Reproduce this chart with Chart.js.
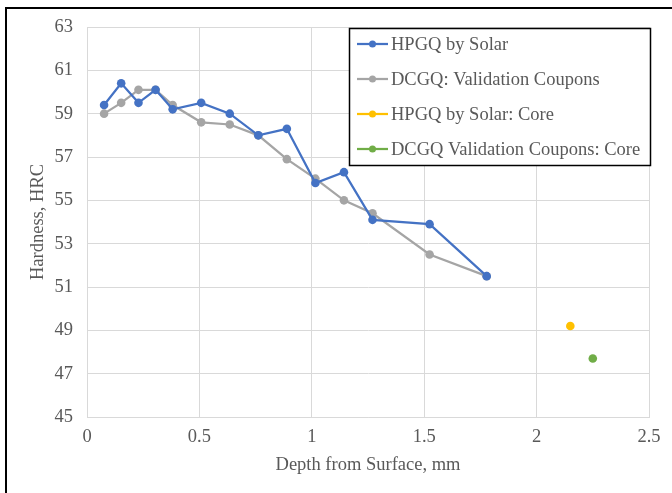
<!DOCTYPE html>
<html>
<head>
<meta charset="utf-8">
<script src="https://cdn.jsdelivr.net/npm/chart.js@4/dist/chart.umd.min.js"></script>
<style>
  html, body { margin: 0; padding: 0; background: #ffffff; }
  canvas { display: block; }
</style>
</head>
<body>
<canvas id="hardness" width="672" height="493"></canvas>
<script>
// Depth of each hardness traverse reading (mm)
const depthMm = [0.076, 0.152, 0.229, 0.305, 0.381, 0.508, 0.635, 0.762, 0.889, 1.016, 1.143, 1.27, 1.524, 1.778];
// Case hardness profiles (HRC)
const hpgqSolar = [59.4, 60.4, 59.5, 60.1, 59.2, 59.5, 59.0, 58.0, 58.3, 55.8, 56.3, 54.1, 53.9, 51.5];
const dcgqCoupons = [59.0, 59.5, 60.1, 60.1, 59.4, 58.6, 58.5, 58.0, 56.9, 56.0, 55.0, 54.4, 52.5, 51.5];
// Core readings: [depth mm, HRC]
const hpgqCore = [2.15, 49.2];
const dcgqCore = [2.25, 47.7];
// Series names
const seriesNames = ['HPGQ by Solar', 'DCGQ: Validation Coupons', 'HPGQ by Solar: Core', 'DCGQ Validation Coupons: Core'];

const textColor = '#595959';
const gridColor = '#d9d9d9';
const serif = "'Liberation Serif', 'Times New Roman', serif";
const fontPx = 18.5;

Chart.defaults.font.family = serif;
Chart.defaults.color = textColor;

const toPoints = (xs, ys) => xs.map((x, i) => ({ x: x, y: ys[i] }));

function series(label, data, color, line) {
  return {
    label: label,
    data: data,
    showLine: line,
    borderColor: color,
    backgroundColor: color,
    borderWidth: 2.25,
    pointRadius: 4.3,
    pointHoverRadius: 4.3,
    pointBorderWidth: 0,
    pointBackgroundColor: color,
    tension: 0
  };
}

// Outer frame lines (top and left edges)
const framePlugin = {
  id: 'frame',
  afterDraw(chart) {
    const ctx = chart.ctx;
    ctx.save();
    ctx.strokeStyle = '#000000';
    ctx.lineWidth = 2;
    ctx.beginPath();
    ctx.moveTo(6, chart.height + 2);
    ctx.lineTo(6, 8);
    ctx.lineTo(chart.width + 2, 8);
    ctx.stroke();
    ctx.restore();
  }
};

// Boxed legend drawn inside the plot area
const boxLegend = {
  id: 'boxLegend',
  afterDraw(chart) {
    const ctx = chart.ctx;
    const box = { x: 349.5, y: 28.5, w: 301, h: 137 };
    ctx.save();
    ctx.fillStyle = '#ffffff';
    ctx.fillRect(box.x, box.y, box.w, box.h);
    ctx.strokeStyle = '#000000';
    ctx.lineWidth = 1.5;
    ctx.strokeRect(box.x, box.y, box.w, box.h);
    const rows = [44, 79, 114, 149];
    ctx.font = fontPx + 'px ' + serif;
    ctx.textBaseline = 'middle';
    ctx.textAlign = 'left';
    chart.data.datasets.forEach((ds, i) => {
      const y = rows[i];
      ctx.strokeStyle = ds.borderColor;
      ctx.lineWidth = 2.25;
      ctx.beginPath();
      ctx.moveTo(357, y);
      ctx.lineTo(388, y);
      ctx.stroke();
      ctx.fillStyle = ds.borderColor;
      ctx.beginPath();
      ctx.arc(372.5, y, 3.5, 0, Math.PI * 2);
      ctx.fill();
      ctx.fillStyle = textColor;
      ctx.fillText(ds.label, 391, y + 1);
    });
    ctx.restore();
  }
};

new Chart(document.getElementById('hardness'), {
  type: 'scatter',
  data: {
    datasets: [
      series(seriesNames[0], toPoints(depthMm, hpgqSolar), '#4472C4', true),
      series(seriesNames[1], toPoints(depthMm, dcgqCoupons), '#A5A5A5', true),
      series(seriesNames[2], [{ x: hpgqCore[0], y: hpgqCore[1] }], '#FFC000', false),
      series(seriesNames[3], [{ x: dcgqCore[0], y: dcgqCore[1] }], '#70AD47', false)
    ]
  },
  options: {
    responsive: false,
    animation: false,
    devicePixelRatio: 1,
    layout: { padding: { left: 0, top: 27, right: 23, bottom: 0 } },
    plugins: {
      legend: { display: false },
      tooltip: { enabled: false }
    },
    scales: {
      x: {
        type: 'linear',
        min: 0,
        max: 2.5,
        ticks: {
          stepSize: 0.5,
          padding: 9,
          color: textColor,
          font: { size: fontPx },
          callback: (v) => String(Math.round(v * 10) / 10)
        },
        grid: { color: gridColor, lineWidth: 1, drawTicks: false },
        border: { color: gridColor, width: 1 },
        title: {
          display: true,
          text: 'Depth from Surface, mm',
          color: textColor,
          font: { size: fontPx },
          padding: { top: 0, bottom: 17 }
        },
        afterFit(scale) { scale.height = 76; }
      },
      y: {
        min: 45,
        max: 63,
        ticks: { stepSize: 2, padding: 14, color: textColor, font: { size: fontPx } },
        grid: { color: gridColor, lineWidth: 1, drawTicks: false },
        border: { color: gridColor, width: 1 },
        title: {
          display: true,
          text: 'Hardness, HRC',
          color: textColor,
          font: { size: fontPx },
          padding: { top: 27, bottom: 0 }
        },
        afterFit(scale) { scale.width = 87; }
      }
    }
  },
  plugins: [framePlugin, boxLegend]
});
</script>
</body>
</html>
